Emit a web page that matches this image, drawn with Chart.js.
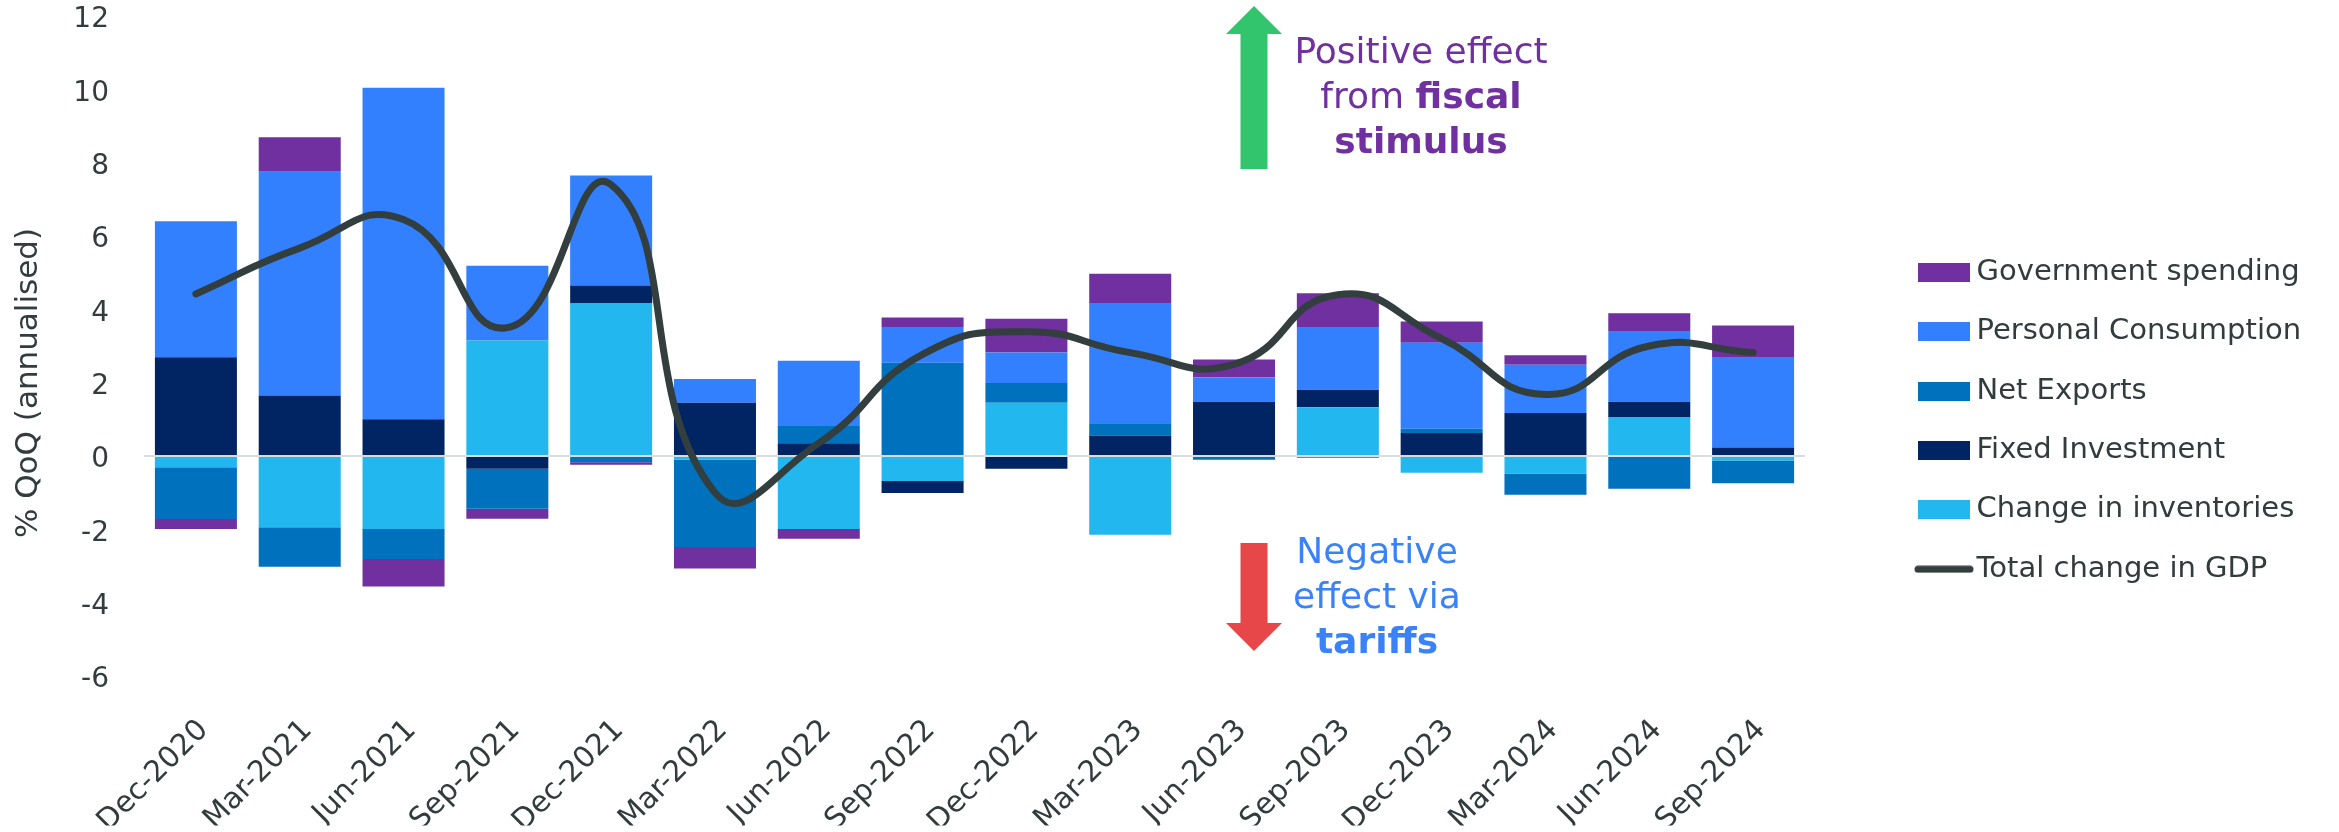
<!DOCTYPE html>
<html>
<head>
<meta charset="utf-8">
<title>US GDP growth contributions</title>
<script src="https://cdn.jsdelivr.net/npm/chart.js@4.4.1/dist/chart.umd.min.js"></script>
<style>
  html, body { margin: 0; padding: 0; background: #ffffff; }
  #wrap { width: 2339px; height: 832px; }
  canvas { display: block; }
</style>
</head>
<body>
<div id="wrap"><canvas id="gdp" width="2339" height="832"></canvas></div>
<script>
// Quarterly contributions to US real GDP growth (% QoQ, annualised)
const quarters = ['Dec-2020', 'Mar-2021', 'Jun-2021', 'Sep-2021', 'Dec-2021', 'Mar-2022', 'Jun-2022', 'Sep-2022',
                  'Dec-2022', 'Mar-2023', 'Jun-2023', 'Sep-2023', 'Dec-2023', 'Mar-2024', 'Jun-2024', 'Sep-2024'];

const inventories         = [-0.31, -1.94, -1.99,  3.15,  4.16, -0.10, -1.99, -0.68,  1.45, -2.15,  0.00,  1.33, -0.46, -0.48,  1.05, -0.12];
const fixedInvestment     = [ 2.69,  1.65,  1.00, -0.35,  0.49,  1.45,  0.35, -0.33, -0.35,  0.56,  1.48,  0.48,  0.63,  1.17,  0.43,  0.23];
const netExports          = [-1.41, -1.08, -0.82, -1.09, -0.17, -2.38,  0.49,  2.54,  0.54,  0.33, -0.10, -0.05,  0.11, -0.58, -0.89, -0.62];
const personalConsumption = [ 3.71,  6.10,  9.04,  2.04,  3.00,  0.65,  1.76,  0.98,  0.83,  3.28,  0.66,  1.71,  2.35,  1.32,  1.93,  2.47];
const governmentSpending  = [-0.27,  0.94, -0.75, -0.27, -0.07, -0.59, -0.27,  0.26,  0.92,  0.80,  0.49,  0.92,  0.58,  0.26,  0.48,  0.86];
const totalGdp            = [ 4.42,  5.67,  6.45,  3.50,  7.40, -1.00,  0.35,  2.77,  3.39,  2.82,  2.50,  4.40,  3.20,  1.68,  3.00,  2.82];

const yTicks = { min: -6, max: 12, step: 2 };
const legendOrder = ['Government spending', 'Personal Consumption', 'Net Exports', 'Fixed Investment',
                     'Change in inventories', 'Total change in GDP'];

const FONT = 'DejaVu Sans';
const TEXT = '#323c3d';
const COL = {
  gov: '#7030a0',
  pc: '#3380ff',
  nx: '#0071bc',
  fi: '#002562',
  inv: '#22b7ee',
  total: '#333e3f',
  zero: '#d8dede',
  up: '#33c46e',
  down: '#e8474a',
  posText: '#7030a0',
  negText: '#3a82f7'
};

// Legend markers: filled swatches for the bars, a round-capped stroke for the line
function swatch(color) {
  const c = document.createElement('canvas');
  c.width = 52; c.height = 19;
  const g = c.getContext('2d');
  g.fillStyle = color;
  g.fillRect(0, 0, 52, 19);
  return c;
}
function stroke(color) {
  const c = document.createElement('canvas');
  c.width = 60; c.height = 8;
  const g = c.getContext('2d');
  g.strokeStyle = color;
  g.lineWidth = 7;
  g.lineCap = 'round';
  g.beginPath();
  g.moveTo(4, 4);
  g.lineTo(56, 4);
  g.stroke();
  return c;
}

const bar = (label, data, color) => ({
  type: 'bar',
  label,
  data,
  backgroundColor: color,
  borderWidth: 0,
  barPercentage: 0.79,
  categoryPercentage: 1.0,
  order: 1,
  marker: swatch(color)
});

const datasets = [
  {
    type: 'line',
    label: 'Total change in GDP',
    data: totalGdp,
    borderColor: COL.total,
    backgroundColor: COL.total,
    borderWidth: 7,
    borderCapStyle: 'round',
    borderJoinStyle: 'round',
    tension: 0.5,
    pointRadius: 0,
    pointHoverRadius: 0,
    fill: false,
    order: 0,
    marker: stroke(COL.total)
  },
  bar('Change in inventories', inventories, COL.inv),
  bar('Fixed Investment', fixedInvestment, COL.fi),
  bar('Net Exports', netExports, COL.nx),
  bar('Personal Consumption', personalConsumption, COL.pc),
  bar('Government spending', governmentSpending, COL.gov)
];

// Legend sits in a fixed-width column to the right of the plot
const LEGEND_SPACE = 534;
const LEGEND_INSET = 90.6;
const legendPlacement = {
  id: 'legendPlacement',
  beforeInit(chart) {
    const legend = chart.legend;
    const fit = legend.fit;
    legend.fit = function () {
      fit.call(this);
      this.width = LEGEND_SPACE;
    };
  },
  afterLayout(chart) {
    const legend = chart.legend;
    legend.left += LEGEND_INSET;
    legend.width -= LEGEND_INSET;
  }
};

// Zero baseline: over the bars, under the GDP line
const zeroLine = {
  id: 'zeroLine',
  beforeDatasetDraw(chart, args) {
    if (args.meta.type !== 'line') return;
    const { ctx, chartArea, scales } = chart;
    const y = scales.y.getPixelForValue(0);
    ctx.save();
    ctx.strokeStyle = COL.zero;
    ctx.lineWidth = 2;
    ctx.beginPath();
    ctx.moveTo(chartArea.left, y);
    ctx.lineTo(chartArea.right, y);
    ctx.stroke();
    ctx.restore();
  }
};

function arrow(ctx, cx, tipY, headBaseY, tailY, headHalf, shaftHalf, color) {
  ctx.fillStyle = color;
  ctx.beginPath();
  ctx.moveTo(cx, tipY);
  ctx.lineTo(cx + headHalf, headBaseY);
  ctx.lineTo(cx + shaftHalf, headBaseY);
  ctx.lineTo(cx + shaftHalf, tailY);
  ctx.lineTo(cx - shaftHalf, tailY);
  ctx.lineTo(cx - shaftHalf, headBaseY);
  ctx.lineTo(cx - headHalf, headBaseY);
  ctx.closePath();
  ctx.fill();
}

// A centred line made of runs of normal / bold text
function richLine(ctx, cx, baseline, runs, size, color) {
  const fontOf = (bold) => (bold ? 'bold ' : '') + size + 'px "' + FONT + '"';
  let total = 0;
  runs.forEach(r => { ctx.font = fontOf(r.bold); r.w = ctx.measureText(r.text).width; total += r.w; });
  let x = cx - total / 2;
  ctx.fillStyle = color;
  ctx.textAlign = 'left';
  ctx.textBaseline = 'alphabetic';
  runs.forEach(r => { ctx.font = fontOf(r.bold); ctx.fillText(r.text, x, baseline); x += r.w; });
}

const annotations = {
  id: 'annotations',
  afterDraw(chart) {
    const ctx = chart.ctx;
    ctx.save();

    // y-axis title
    ctx.save();
    ctx.translate(29, 383);
    ctx.rotate(-Math.PI / 2);
    ctx.font = '31px "' + FONT + '"';
    ctx.fillStyle = TEXT;
    ctx.textAlign = 'center';
    ctx.textBaseline = 'middle';
    ctx.fillText('% QoQ (annualised)', 0, 0);
    ctx.restore();

    // fiscal stimulus call-out
    arrow(ctx, 1254, 6, 34, 169, 28, 13.5, COL.up);
    richLine(ctx, 1421, 63, [{ text: 'Positive effect' }], 36, COL.posText);
    richLine(ctx, 1421, 108, [{ text: 'from ' }, { text: 'fiscal', bold: true }], 36, COL.posText);
    richLine(ctx, 1421, 153, [{ text: 'stimulus', bold: true }], 36, COL.posText);

    // tariffs call-out
    arrow(ctx, 1254, 651, 623, 543, 28, 13.5, COL.down);
    richLine(ctx, 1377, 563, [{ text: 'Negative' }], 36, COL.negText);
    richLine(ctx, 1377, 608, [{ text: 'effect via' }], 36, COL.negText);
    richLine(ctx, 1377, 653, [{ text: 'tariffs', bold: true }], 36, COL.negText);

    ctx.restore();
  }
};

new Chart(document.getElementById('gdp'), {
  data: { labels: quarters, datasets },
  options: {
    responsive: false,
    animation: false,
    devicePixelRatio: 1,
    layout: { padding: { top: 16, right: 0, bottom: 6.5, left: 0 } },
    plugins: {
      tooltip: { enabled: false },
      title: { display: false },
      legend: {
        position: 'right',
        align: 'center',
        labels: {
          usePointStyle: true,
          pointStyleWidth: 36,
          padding: 30.4,
          color: TEXT,
          font: { family: FONT, size: 29 },
          generateLabels(chart) {
            const items = Chart.defaults.plugins.legend.labels.generateLabels(chart);
            items.forEach(it => { it.pointStyle = chart.data.datasets[it.datasetIndex].marker; });
            return items;
          },
          sort: (a, b) => legendOrder.indexOf(a.text) - legendOrder.indexOf(b.text)
        }
      }
    },
    scales: {
      x: {
        stacked: true,
        grid: { display: false, drawTicks: true, tickLength: 37 },
        border: { display: false },
        ticks: {
          autoSkip: false,
          minRotation: 45,
          maxRotation: 45,
          padding: 0,
          labelOffset: 8,
          color: TEXT,
          font: { family: FONT, size: 29.5 }
        },
        afterFit: (scale) => { scale.height = 149.5; }
      },
      y: {
        stacked: true,
        min: yTicks.min,
        max: yTicks.max,
        grid: { display: false, drawTicks: true, tickLength: 35 },
        border: { display: false },
        ticks: {
          stepSize: yTicks.step,
          padding: 0,
          labelOffset: 4,
          color: TEXT,
          font: { family: FONT, size: 28, lineHeight: 1 }
        },
        afterFit: (scale) => { scale.width = 144; }
      }
    }
  },
  plugins: [legendPlacement, zeroLine, annotations]
});
</script>
</body>
</html>
